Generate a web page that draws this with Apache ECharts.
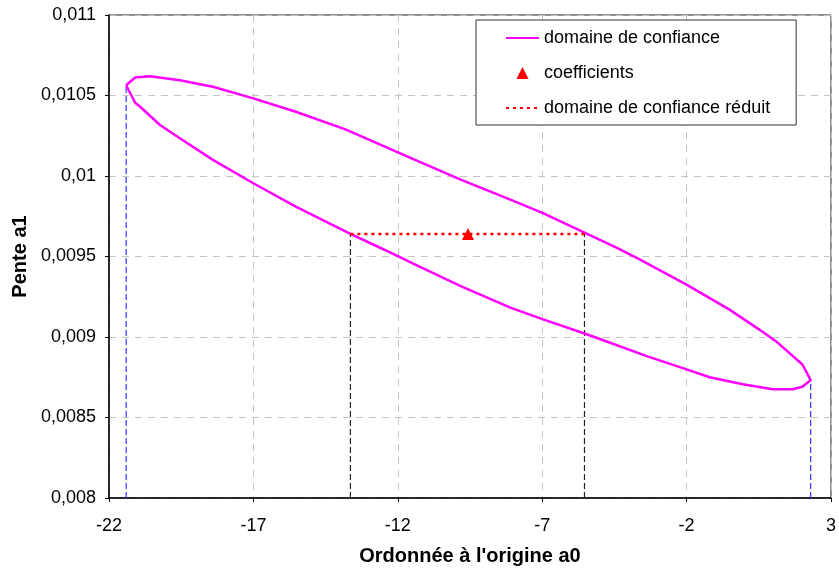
<!DOCTYPE html>
<html>
<head>
<meta charset="utf-8">
<script src="https://cdn.jsdelivr.net/npm/echarts@6/dist/echarts.min.js"></script>
<style>
  html, body { margin: 0; padding: 0; background: #fff; }
  #main { width: 839px; height: 571px; }
</style>
</head>
<body>
<div id="main"></div>
<script>
// ellipse, clockwise from the left end
var ellipseX = [-21.405, -21.095, -20.579, -19.547, -18.402, -17.002, -15.533, -13.813, -12.667, -11.522,
                -9.802, -8.082, -6.991, -5.536, -4.411, -3.610, -2.003, -0.514, 0.518, 1.092, 2.011, 2.296,
                2.011, 1.667, 0.979, -0.053, -1.202, -2.003, -3.379, -5.099, -5.536, -6.991, -8.082, -9.802,
                -11.522, -11.979, -12.667, -13.641, -15.533, -17.002, -18.402, -19.547, -20.235, -20.923, -21.095, -21.405];
var ellipseY = [0.010564, 0.010612, 0.010620, 0.010595, 0.010554, 0.010482, 0.010399, 0.010290, 0.010199, 0.010110,
                0.009976, 0.009852, 0.009771, 0.009649, 0.009553, 0.009480, 0.009325, 0.009170, 0.009046, 0.008974, 0.008829, 0.008732,
                0.008691, 0.008675, 0.008675, 0.008706, 0.008750, 0.008799, 0.008881, 0.008994, 0.009022, 0.009111, 0.009181, 0.009315,
                0.009460, 0.009501, 0.009559, 0.009641, 0.009810, 0.009955, 0.010100, 0.010234, 0.010317, 0.010430, 0.010455, 0.010564];

var coefX = [-9.57];
var coefY = [0.00964];

var reducedX = [-13.641, -5.536];
var reducedY = [0.00964, 0.00964];

// dashed drop lines down to the x axis
var leftEndX = [-21.405, -21.405];
var leftEndY = [0.008, 0.010564];
var rightEndX = [2.296, 2.296];
var rightEndY = [0.008, 0.008732];
var redLeftX = [-13.641, -13.641];
var redLeftY = [0.008, 0.00964];
var redRightX = [-5.536, -5.536];
var redRightY = [0.008, 0.00964];

var legendNames = ['domaine de confiance', 'coefficients', 'domaine de confiance réduit'];

function pairs(xs, ys) {
    return xs.map(function (x, i) { return [x, ys[i]]; });
}

var triSvg = '<svg xmlns="http://www.w3.org/2000/svg" width="33" height="14" viewBox="0 0 33 14">' +
    '<path d="M16.5 1 L22.5 13 L10.5 13 Z" fill="#ff0000"/></svg>';
var triIcon = 'image://data:image/svg+xml;charset=utf-8,' + encodeURIComponent(triSvg);

var font = '"Liberation Sans", Arial, sans-serif';
var chart = echarts.init(document.getElementById('main'));

var option = {
    animation: false,
    backgroundColor: '#fff',
    textStyle: { fontFamily: font },
    grid: {
        left: 109, right: 4, top: 15, bottom: 72,
        show: true, borderColor: '#222', borderWidth: 1
    },
    legend: {
        orient: 'vertical',
        left: 476, top: 20,
        padding: [9, 26, 8, 29],
        itemGap: 17,
        itemWidth: 33,
        itemHeight: 14,
        backgroundColor: '#fff',
        borderColor: '#333',
        borderWidth: 1,
        itemStyle: { opacity: 0 },
        textStyle: { fontSize: 18, color: '#000', fontFamily: font, lineHeight: 18 },
        data: [
            { name: legendNames[0] },
            { name: legendNames[1], icon: triIcon, itemStyle: { opacity: 1 } },
            { name: legendNames[2] }
        ]
    },
    xAxis: {
        type: 'value',
        min: -22, max: 3, interval: 5,
        name: "Ordonnée à l'origine a0",
        nameLocation: 'middle',
        nameGap: 48,
        nameTextStyle: { fontSize: 20, fontWeight: 'bold', color: '#000', fontFamily: font },
        axisLine: { onZero: false, lineStyle: { color: '#000', width: 1.5 } },
        axisTick: { show: true, length: 4, lineStyle: { color: '#000' } },
        axisLabel: { fontSize: 18, color: '#000', margin: 19, fontFamily: font },
        splitLine: { show: true, lineStyle: { color: '#c4c4c4', type: [7, 6] } }
    },
    yAxis: {
        type: 'value',
        min: 0.008, max: 0.011, interval: 0.0005,
        name: 'Pente a1',
        nameLocation: 'middle',
        nameGap: 79,
        nameTextStyle: { fontSize: 20, fontWeight: 'bold', color: '#000', fontFamily: font },
        axisLine: { onZero: false, lineStyle: { color: '#000', width: 1.5 } },
        axisTick: { show: true, length: 4, lineStyle: { color: '#000' } },
        axisLabel: {
            fontSize: 18, color: '#000', margin: 13, fontFamily: font,
            formatter: function (v) { return String(+v.toFixed(5)).replace('.', ','); }
        },
        splitLine: { show: true, lineStyle: { color: '#c4c4c4', type: [7, 6] } }
    },
    series: [
        {
            name: 'bord gauche', type: 'line', data: pairs(leftEndX, leftEndY),
            symbol: 'none', silent: true,
            lineStyle: { color: '#3030ff', width: 1.2, type: [6, 3] }
        },
        {
            name: 'bord droit', type: 'line', data: pairs(rightEndX, rightEndY),
            symbol: 'none', silent: true,
            lineStyle: { color: '#3030ff', width: 1.2, type: [6, 3] }
        },
        {
            name: 'réduit gauche', type: 'line', data: pairs(redLeftX, redLeftY),
            symbol: 'none', silent: true,
            lineStyle: { color: '#222', width: 1.2, type: [6, 3] }
        },
        {
            name: 'réduit droit', type: 'line', data: pairs(redRightX, redRightY),
            symbol: 'none', silent: true,
            lineStyle: { color: '#222', width: 1.2, type: [6, 3] }
        },
        {
            name: legendNames[0], type: 'line', data: pairs(ellipseX, ellipseY),
            symbol: 'none', smooth: false,
            itemStyle: { color: '#ff00ff' },
            lineStyle: { color: '#ff00ff', width: 2.5 }
        },
        {
            name: legendNames[2], type: 'line', data: pairs(reducedX, reducedY),
            symbol: 'none',
            itemStyle: { color: '#ff0000' },
            lineStyle: { color: '#ff0000', width: 2.5, type: [3, 4] }
        },
        {
            name: legendNames[1], type: 'scatter', data: pairs(coefX, coefY),
            symbol: 'triangle', symbolSize: [12, 12],
            itemStyle: { color: '#ff0000', opacity: 1 }
        }
    ]
};
chart.setOption(option);
</script>
</body>
</html>
